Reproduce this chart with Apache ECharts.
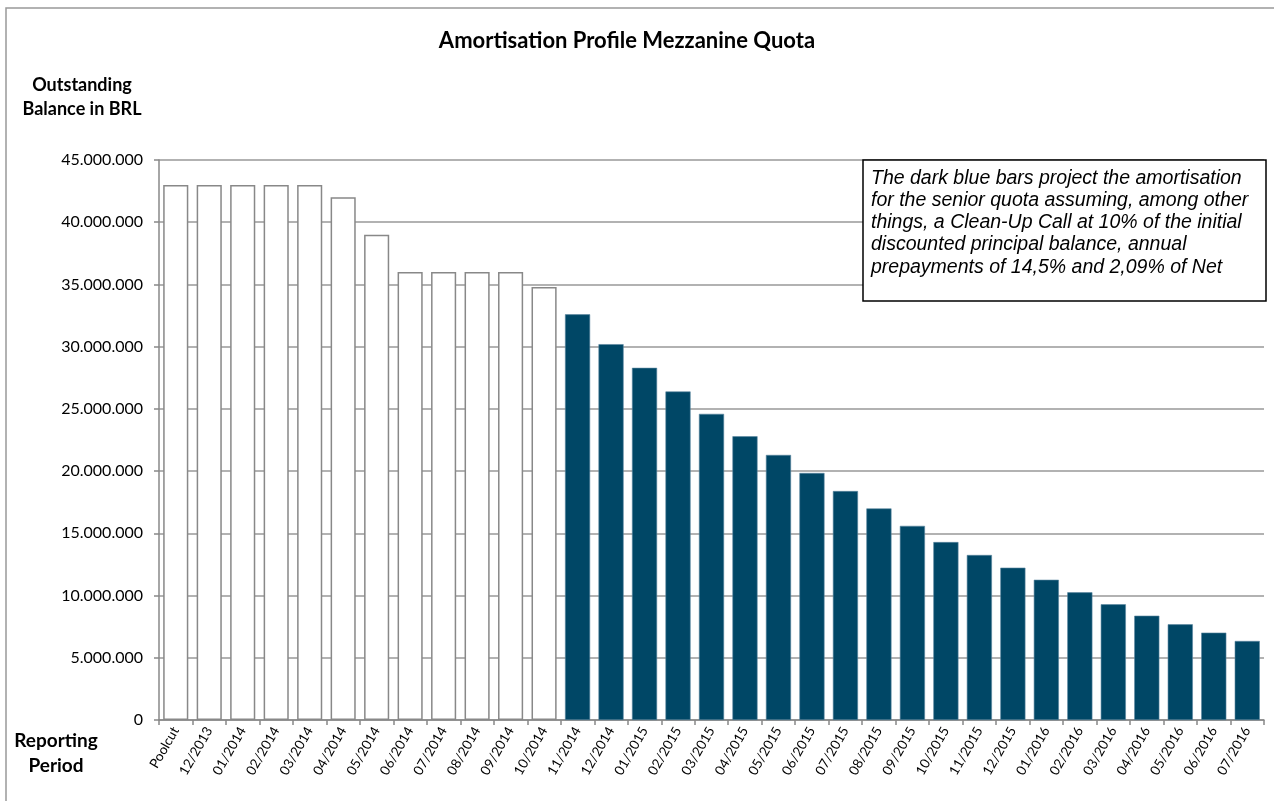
<!DOCTYPE html>
<html>
<head>
<meta charset="utf-8">
<script src="https://cdn.jsdelivr.net/npm/echarts@6/dist/echarts.min.js"></script>
<style>
html,body{margin:0;padding:0;background:#fff;}
#chart{width:1274px;height:801px;}
</style>
</head>
<body>
<div id="chart"></div>
<script>
const categories = ['Poolcut','12/2013','01/2014','02/2014','03/2014','04/2014','05/2014','06/2014','07/2014','08/2014','09/2014','10/2014',
  '11/2014','12/2014','01/2015','02/2015','03/2015','04/2015','05/2015','06/2015','07/2015','08/2015','09/2015','10/2015','11/2015','12/2015',
  '01/2016','02/2016','03/2016','04/2016','05/2016','06/2016','07/2016'];
const historicalValues = [43000000,43000000,43000000,43000000,43000000,42000000,39000000,36000000,36000000,36000000,36000000,34800000];
const projectedValues = [32600000,30200000,28300000,26400000,24600000,22800000,21300000,19850000,18400000,17000000,15600000,14300000,
  13260000,12240000,11270000,10260000,9300000,8380000,7690000,7020000,6350000];
const yTicks = [0,5000000,10000000,15000000,20000000,25000000,30000000,35000000,40000000,45000000];

const histSeries = categories.map((c,i)=> i < historicalValues.length ? historicalValues[i] : '-');
const projSeries = categories.map((c,i)=> i >= historicalValues.length ? projectedValues[i - historicalValues.length] : '-');

function fmt(v){ return String(Math.round(v)).replace(/\B(?=(\d{3})+(?!\d))/g,'.'); }

const chart = echarts.init(document.getElementById('chart'));
const font = 'Lato, "Open Sans", sans-serif';
chart.setOption({
  animation:false,
  backgroundColor:'#fff',
  title:{text:'Amortisation Profile Mezzanine Quota',left:622,top:25,textAlign:'center',
    textStyle:{fontFamily:font,fontSize:22,fontWeight:'bold',color:'#000'}},
  grid:{left:159,right:10,top:160,bottom:81,containLabel:false},
  xAxis:{type:'category',data:categories,
    axisLine:{lineStyle:{color:'#888',width:1.5}},
    axisTick:{show:true,alignWithLabel:false,length:5,lineStyle:{color:'#888',width:1.5}},
    axisLabel:{rotate:60,interval:0,fontFamily:font,fontSize:13.5,color:'#000',margin:8}},
  yAxis:{type:'value',min:0,max:45000000,interval:5000000,
    axisLine:{show:true,lineStyle:{color:'#888',width:1.5}},
    axisTick:{show:true,length:5,lineStyle:{color:'#888',width:1.5}},
    splitLine:{lineStyle:{color:'#999',width:1.5}},
    axisLabel:{fontFamily:font,fontSize:16,color:'#000',margin:16,
      formatter:function(v){return yTicks.indexOf(v)>=0?fmt(v):'';}}},
  series:[
    {type:'bar',data:histSeries,barWidth:'75%',barGap:'-100%',
      itemStyle:{color:'#fff',borderColor:'#888',borderWidth:1.5}},
    {type:'bar',data:projSeries,barWidth:'75%',
      itemStyle:{color:'#004766',borderColor:'#5a87a0',borderWidth:0.6}}
  ],
  graphic:[
    {type:'rect',shape:{x:6,y:8,width:1300,height:900},style:{fill:'none',stroke:'#999',lineWidth:1.5},silent:true},
    {type:'text',x:82,y:73,style:{text:'Outstanding\nBalance in BRL',fontFamily:font,fontSize:18,fontWeight:'bold',fill:'#000',align:'center',lineHeight:24}},
    {type:'text',x:56,y:728,style:{text:'Reporting\nPeriod',fontFamily:font,fontSize:19,fontWeight:'bold',fill:'#000',align:'center',lineHeight:25}},
    {type:'rect',shape:{x:863,y:160,width:403,height:141},style:{fill:'#fff',stroke:'#000',lineWidth:1.5},z:10},
    {type:'text',x:871,y:167,z:11,style:{text:'The dark blue bars project the amortisation\nfor the senior quota assuming, among other\nthings, a Clean-Up Call at 10% of the initial\ndiscounted principal balance, annual\nprepayments of 14,5% and 2,09% of Net',
      fontFamily:'"Liberation Sans", Arial, sans-serif',fontSize:19.5,fontStyle:'italic',fill:'#000',lineHeight:22.3}}
  ]
});
</script>
</body>
</html>
